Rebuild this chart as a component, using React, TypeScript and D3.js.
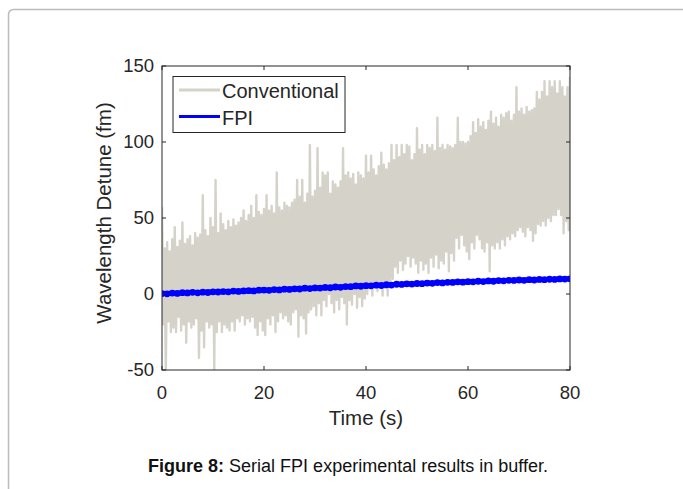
import React from "react";
import * as d3 from "d3";

// Conventional sensor: local maxima (t = 0, 0.5, ..., 80) and minima (t = 0.25, 0.75, ..., 79.75)
const convHighs: number[] = [
  57, 30, 34, 28, 36, 44, 31, 35, 47, 33,
  36, 38, 32, 40, 37, 39, 65, 42, 38, 50,
  44, 75, 40, 53, 46, 42, 48, 44, 49, 45,
  47, 50, 55, 48, 52, 58, 50, 65, 54, 52,
  56, 65, 55, 58, 53, 80, 57, 55, 60, 58,
  57, 60, 62, 75, 64, 75, 60, 66, 98, 64,
  68, 96, 70, 80, 78, 80, 66, 74, 72, 70,
  74, 96, 78, 80, 76, 79, 72, 80, 78, 76,
  91, 80, 91, 82, 78, 84, 93, 85, 82, 86,
  98, 88, 98, 90, 98, 92, 98, 97, 88, 92,
  109, 95, 98, 92, 98, 96, 98, 94, 116, 96,
  98, 95, 98, 97, 96, 98, 116, 100, 100, 99,
  100, 104, 113, 106, 115, 110, 113, 108, 114, 120,
  112, 116, 110, 118, 116, 119, 120, 114, 118, 136,
  120, 122, 118, 123, 120, 121, 122, 133, 128, 133,
  140, 130, 140, 136, 140, 132, 140, 136, 130, 136,
  143,
];
const convLows: number[] = [
  -20, -50, -18, -25, -22, -25, -15, -24, -20, -32,
  -18, -22, -20, -16, -42, -24, -35, -18, -22, -20,
  -50, -25, -18, -25, -20, -22, -24, -18, -24, -16,
  -18, -14, -20, -16, -18, -15, -22, -27, -18, -24,
  -27, -16, -20, -14, -25, -18, -12, -16, -14, -18,
  -20, -12, -10, -28, -14, -16, -26, -12, -10, -8,
  -14, -6, -14, -4, -8, 0, -6, -12, -4, -10,
  -2, -6, -20, -4, -7, 0, -9, -2, -8, -3,
  0, 4, -1, 6, 2, 8, -1, 4, -1, 6,
  10, 18, 14, 22, 16, 20, 25, 18, 24, 20,
  14, 22, 16, 20, 14, 24, 18, 26, 17, 22,
  20, 28, 15, 27, 22, 37, 30, 39, 32, 28,
  23, 34, 30, 39, 36, 30, 28, 34, 15, 32,
  30, 34, 30, 36, 32, 38, 36, 40, 38, 42,
  44, 41, 38, 44, 42, 35, 40, 46, 45, 48,
  45, 50, 48, 52, 52, 56, 52, 40, 48, 42,
];
// FPI sensor, one value per second (t = 0..80)
const fpiValues: number[] = [
  0.3, 0.1, 0.6, 0.4, 0.9, 0.7, 1.1, 0.8, 1.2, 1.0,
  1.4, 1.3, 1.6, 1.4, 1.9, 1.7, 2.0, 2.2, 2.0, 2.5,
  2.6, 2.4, 2.9, 2.7, 3.2, 3.0, 3.4, 3.3, 3.8, 3.6,
  4.0, 3.9, 4.3, 4.1, 4.6, 4.4, 4.9, 4.8, 5.3, 5.1,
  5.5, 5.4, 5.8, 5.6, 6.1, 5.9, 6.4, 6.3, 6.7, 6.5,
  6.9, 6.8, 7.2, 7.0, 7.5, 7.3, 7.7, 7.6, 8.0, 7.8,
  8.1, 8.0, 8.4, 8.2, 8.6, 8.4, 8.8, 8.7, 9.0, 8.9,
  9.2, 9.0, 9.4, 9.2, 9.6, 9.4, 9.7, 9.6, 9.9, 9.8,
  10.0,
];
const xTicks: number[] = [0, 20, 40, 60, 80];
const yTicks: number[] = [-50, 0, 50, 100, 150];
const seriesNames: string[] = ["Conventional", "FPI"];

const W = 683;
const H = 489;
const M = { left: 162, right: 570, top: 66, bottom: 370 };
const CONV_COLOR = "#d5d2c9";
const FPI_COLOR = "#0000ff";
const AXIS_COLOR = "#262626";
const FONT = "'Liberation Sans', Arial, sans-serif";

export default function App() {
  const x = d3.scaleLinear().domain([0, 80]).range([M.left, M.right]);
  const y = d3.scaleLinear().domain([-50, 150]).range([M.bottom, M.top]);

  const convPts: [number, number][] = [];
  convHighs.forEach((h, i) => {
    convPts.push([i * 0.5, h]);
    if (i < convLows.length) convPts.push([i * 0.5 + 0.25, convLows[i]]);
  });
  const fpiPts: [number, number][] = fpiValues.map((v, i) => [i, v]);

  const line = d3
    .line<[number, number]>()
    .x((d) => x(d[0]))
    .y((d) => y(d[1]));

  const tickLen = 4;

  return (
    <svg
      width={W}
      height={H}
      style={{ position: "absolute", left: 0, top: 0, background: "#fff" }}
      fontFamily={FONT}
    >
      <rect x={0} y={0} width={W} height={H} fill="#fff" />
      {/* outer frame */}
      <path
        d={`M 8.5 ${H + 5} L 8.5 15 Q 8.5 9.5 14 9.5 L ${W + 5} 9.5`}
        fill="none"
        stroke="#bdbdbd"
        strokeWidth={1.5}
      />
      <defs>
        <clipPath id="plotClip">
          <rect x={M.left} y={M.top} width={M.right - M.left} height={M.bottom - M.top} />
        </clipPath>
      </defs>

      <g clipPath="url(#plotClip)">
        <path
          d={line(convPts) ?? ""}
          fill="none"
          stroke={CONV_COLOR}
          strokeWidth={2.4}
          strokeLinejoin="round"
        />
        <path d={line(fpiPts) ?? ""} fill="none" stroke={FPI_COLOR} strokeWidth={5} />
        {fpiPts.map((d, i) => (
          <circle key={i} cx={x(d[0])} cy={y(d[1])} r={3.4} fill={FPI_COLOR} />
        ))}
      </g>

      {/* axes box */}
      <rect
        x={M.left}
        y={M.top}
        width={M.right - M.left}
        height={M.bottom - M.top}
        fill="none"
        stroke={AXIS_COLOR}
        strokeWidth={1}
      />
      {xTicks.map((t) => (
        <g key={"xt" + t}>
          <line x1={x(t)} x2={x(t)} y1={M.bottom} y2={M.bottom - tickLen} stroke={AXIS_COLOR} />
          <line x1={x(t)} x2={x(t)} y1={M.top} y2={M.top + tickLen} stroke={AXIS_COLOR} />
          <text x={x(t)} y={399} textAnchor="middle" fontSize={18.5} fill={AXIS_COLOR}>
            {t}
          </text>
        </g>
      ))}
      {yTicks.map((t) => (
        <g key={"yt" + t}>
          <line x1={M.left} x2={M.left + tickLen} y1={y(t)} y2={y(t)} stroke={AXIS_COLOR} />
          <line x1={M.right} x2={M.right - tickLen} y1={y(t)} y2={y(t)} stroke={AXIS_COLOR} />
          <text
            x={154}
            y={y(t)}
            dy="0.35em"
            textAnchor="end"
            fontSize={18.5}
            fill={AXIS_COLOR}
          >
            {t}
          </text>
        </g>
      ))}

      <text
        x={(M.left + M.right) / 2}
        y={425}
        textAnchor="middle"
        fontSize={20.5}
        fill={AXIS_COLOR}
      >
        Time (s)
      </text>
      <text
        transform={`translate(111, ${(M.top + M.bottom) / 2 - 5}) rotate(-90)`}
        textAnchor="middle"
        fontSize={20.5}
        fill={AXIS_COLOR}
      >
        Wavelength Detune (fm)
      </text>

      {/* legend */}
      <rect x={173} y={76.5} width={172} height={56} fill="#fff" stroke={AXIS_COLOR} strokeWidth={1} />
      {seriesNames.map((name, i) => (
        <g key={name}>
          <line
            x1={179}
            x2={220}
            y1={90 + i * 26.5}
            y2={90 + i * 26.5}
            stroke={i === 0 ? CONV_COLOR : FPI_COLOR}
            strokeWidth={3}
          />
          <text x={222} y={91 + i * 26.5} dy="0.35em" fontSize={20} fill={AXIS_COLOR}>
            {name}
          </text>
        </g>
      ))}

      {/* caption */}
      <text x={348} y={472} textAnchor="middle" fontSize={18} fill="#111">
        <tspan fontWeight="bold">Figure 8:</tspan>
        <tspan> Serial FPI experimental results in buffer.</tspan>
      </text>
    </svg>
  );
}
